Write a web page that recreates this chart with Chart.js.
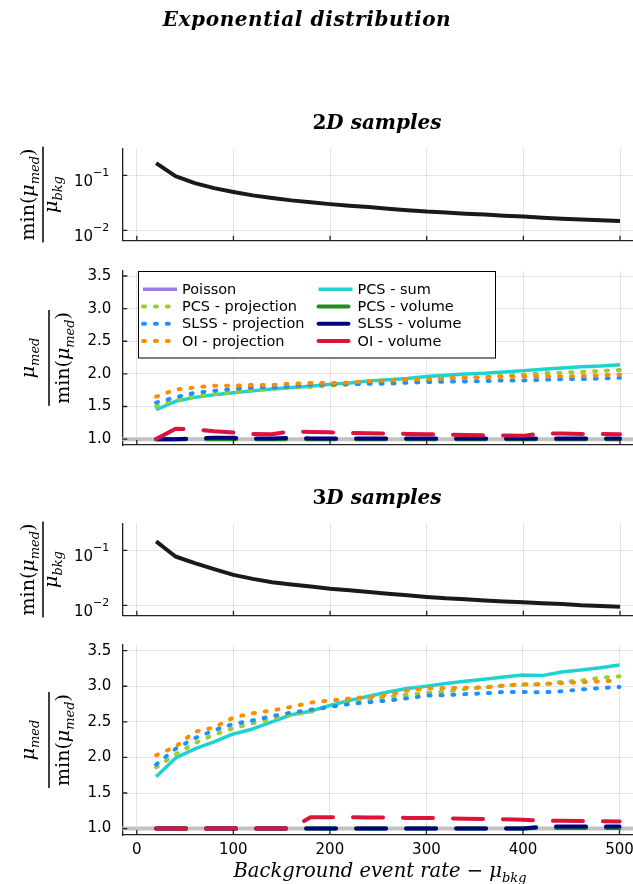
<!DOCTYPE html>
<html>
<head>
<meta charset="utf-8">
<script src="https://cdn.jsdelivr.net/npm/chart.js@4.4.1/dist/chart.umd.min.js"></script>
<style>
  body { margin: 0; width: 633px; height: 884px; overflow: hidden; background: #fff; position: relative; }
  canvas { position: absolute; left: 0; }
</style>
</head>
<body>
<canvas id="ratio2D" width="640" height="250" style="top:0px"></canvas>
<canvas id="norm2D" width="640" height="215" style="top:250px"></canvas>
<canvas id="ratio3D" width="640" height="160" style="top:465px"></canvas>
<canvas id="norm3D" width="640" height="259" style="top:625px"></canvas>
<script>
// background event rates (shared x axis)
const rates = [20, 40, 60, 80, 100, 120, 140, 160, 180, 200, 220, 240, 260, 280, 300, 320, 340, 360, 380, 400, 420, 440, 460, 480, 500];
const xTicks = [0, 100, 200, 300, 400, 500];
const normTicks = [1.0, 1.5, 2.0, 2.5, 3.0, 3.5];
const logTicks = [0.01, 0.1];
const refLevel = 1.0;

// 2D samples
const minMed2D = [0.168, 0.097, 0.0724, 0.0588, 0.050, 0.0433, 0.0389, 0.0351, 0.0323, 0.0300, 0.0281, 0.0266, 0.0248, 0.0233, 0.0219, 0.0210, 0.0201, 0.0193, 0.0185, 0.0178, 0.0170, 0.0163, 0.0158, 0.0153, 0.0148];
const poisson2D = [];
const pcsSum2D = [1.45, 1.58, 1.64, 1.68, 1.71, 1.74, 1.77, 1.79, 1.81, 1.84, 1.86, 1.89, 1.91, 1.93, 1.96, 1.98, 2.00, 2.01, 2.03, 2.05, 2.07, 2.09, 2.11, 2.12, 2.14];
const pcsProj2D = [1.50, 1.60, 1.66, 1.69, 1.72, 1.75, 1.77, 1.79, 1.80, 1.82, 1.84, 1.86, 1.88, 1.90, 1.91, 1.93, 1.94, 1.95, 1.975, 1.99, 2.01, 2.02, 2.03, 2.045, 2.06];
const pcsVol2D = [1.00, 1.00, 1.00, 1.00, 1.00, 1.00, 1.00, 1.00, 1.00, 1.00, 1.00, 1.00, 1.00, 1.00, 1.00, 1.00, 1.00, 1.00, 1.00, 1.00, 1.00, 1.00, 1.00, 1.00, 1.00];
const slssProj2D = [1.56, 1.64, 1.71, 1.74, 1.77, 1.79, 1.79, 1.81, 1.83, 1.84, 1.84, 1.85, 1.85, 1.865, 1.875, 1.88, 1.885, 1.89, 1.90, 1.90, 1.91, 1.92, 1.92, 1.93, 1.94];
const slssVol2D = [1.00, 1.00, 1.01, 1.02, 1.02, 1.01, 1.01, 1.02, 1.01, 1.01, 1.01, 1.01, 1.01, 1.01, 1.01, 1.01, 1.01, 1.01, 1.01, 1.01, 1.01, 1.01, 1.01, 1.01, 1.01];
const oiProj2D = [1.65, 1.76, 1.79, 1.82, 1.82, 1.83, 1.83, 1.85, 1.86, 1.86, 1.865, 1.89, 1.90, 1.91, 1.92, 1.93, 1.94, 1.95, 1.955, 1.96, 1.96, 1.965, 1.965, 1.98, 1.99];
const oiVol2D = [1.00, 1.16, 1.15, 1.12, 1.10, 1.08, 1.075, 1.12, 1.11, 1.105, 1.095, 1.09, 1.085, 1.08, 1.075, 1.07, 1.065, 1.06, 1.055, 1.05, 1.09, 1.085, 1.08, 1.08, 1.075];

// 3D samples
const minMed3D = [0.146, 0.0776, 0.0587, 0.0456, 0.0359, 0.0303, 0.0264, 0.0239, 0.0219, 0.0201, 0.0188, 0.0175, 0.0163, 0.0152, 0.0142, 0.0134, 0.0129, 0.0122, 0.0117, 0.01135, 0.0109, 0.0105, 0.0100, 0.0097, 0.0094];
const poisson3D = [];
const pcsSum3D = [1.73, 1.99, 2.12, 2.22, 2.33, 2.40, 2.50, 2.60, 2.65, 2.73, 2.80, 2.86, 2.92, 2.97, 3.00, 3.04, 3.07, 3.10, 3.13, 3.16, 3.15, 3.20, 3.23, 3.26, 3.30];
const pcsProj3D = [1.86, 2.04, 2.20, 2.32, 2.41, 2.48, 2.54, 2.60, 2.64, 2.72, 2.77, 2.82, 2.85, 2.88, 2.91, 2.925, 2.96, 2.985, 3.01, 3.02, 3.03, 3.06, 3.08, 3.12, 3.14];
const pcsVol3D = [1.00, 1.00, 1.00, 1.00, 1.00, 1.00, 1.00, 1.00, 1.00, 1.00, 1.00, 1.00, 1.00, 1.00, 1.00, 1.00, 1.00, 1.00, 1.00, 1.00, 1.01, 1.01, 1.01, 1.01, 1.01];
const slssProj3D = [1.90, 2.12, 2.27, 2.38, 2.47, 2.52, 2.58, 2.63, 2.67, 2.71, 2.75, 2.775, 2.80, 2.83, 2.87, 2.875, 2.89, 2.90, 2.92, 2.92, 2.915, 2.93, 2.955, 2.975, 2.99];
const slssVol3D = [1.00, 1.00, 1.00, 1.00, 1.00, 1.00, 1.00, 1.00, 1.00, 1.00, 1.00, 1.00, 1.00, 1.00, 1.00, 1.00, 1.00, 1.00, 1.00, 1.00, 1.03, 1.03, 1.03, 1.03, 1.03];
const oiProj3D = [2.03, 2.15, 2.36, 2.42, 2.56, 2.62, 2.66, 2.71, 2.77, 2.80, 2.83, 2.85, 2.88, 2.94, 2.97, 2.975, 2.98, 2.985, 3.01, 3.03, 3.03, 3.045, 3.055, 3.07, 3.08];
const oiVol3D = [1.00, 1.00, 1.00, 1.00, 1.00, 1.00, 1.00, 1.00, 1.16, 1.16, 1.16, 1.155, 1.155, 1.15, 1.15, 1.145, 1.14, 1.135, 1.13, 1.125, 1.11, 1.11, 1.105, 1.105, 1.10];

// line styles
const SOLID = [];
const DOT = [2, 9.9];
const DASH = [30, 20];

const methods = [
    { label: 'Poisson',           color: 'rgb(155, 125, 225)', width: 3.5, dash: SOLID },
    { label: 'PCS - sum',         color: '#1ed2d2',            width: 3.5, dash: SOLID },
    { label: 'PCS - projection',  color: 'yellowgreen',        width: 4,   dash: DOT },
    { label: 'PCS - volume',      color: 'forestgreen',        width: 4,   dash: DASH },
    { label: 'SLSS - projection', color: 'dodgerblue',         width: 4,   dash: DOT },
    { label: 'SLSS - volume',     color: 'navy',               width: 4,   dash: DASH },
    { label: 'OI - projection',   color: 'darkorange',         width: 4,   dash: DOT },
    { label: 'OI - volume',       color: 'crimson',            width: 4,   dash: DASH }
];

const TICK_FONT = '15px "DejaVu Sans"';
const SERIF = '"DejaVu Serif"';

// later series are painted over earlier ones
function lineSet(style, values, index = 0, count = 1) {
    return {
        label: style.label,
        data: values.map((v, i) => ({ x: rates[i], y: v })),
        order: count - index,
        borderColor: style.color,
        borderWidth: style.width,
        borderDash: style.dash,
        borderCapStyle: style.dash.length ? 'round' : 'butt',
        borderJoinStyle: 'round',
        pointRadius: 0,
        tension: 0,
        fill: false
    };
}

// text made of runs with their own font and baseline shift
function runsWidth(ctx, runs) {
    let w = 0;
    runs.forEach(r => {
        ctx.font = r.f;
        ctx.letterSpacing = r.ls || '0px';
        w += ctx.measureText(r.t).width;
    });
    ctx.letterSpacing = '0px';
    return w;
}

function drawRuns(ctx, runs, x, y) {
    ctx.textAlign = 'left';
    ctx.textBaseline = 'alphabetic';
    runs.forEach(r => {
        ctx.font = r.f;
        ctx.letterSpacing = r.ls || '0px';
        ctx.fillText(r.t, x, y + (r.dy || 0));
        x += ctx.measureText(r.t).width;
    });
    ctx.letterSpacing = '0px';
}

const minMedRuns = [
    { t: 'min', f: `19px ${SERIF}` },
    { t: '(', f: `19px ${SERIF}` },
    { t: 'μ', f: `italic 19px ${SERIF}` },
    { t: 'med', f: `italic 13px ${SERIF}`, dy: 5 },
    { t: ')', f: `19px ${SERIF}` }
];
const medRuns = [
    { t: 'μ', f: `italic 19px ${SERIF}` },
    { t: 'med', f: `italic 13px ${SERIF}`, dy: 5 }
];
const bkgRuns = [
    { t: 'μ', f: `italic 19px ${SERIF}` },
    { t: 'bkg', f: `italic 13px ${SERIF}`, dy: 5 }
];

// vertical fraction as y axis title
function fractionTitle(num, den, barX, numGap, denGap) {
    return {
        id: 'fractionTitle',
        afterDraw(chart) {
            const ctx = chart.ctx;
            const a = chart.chartArea;
            ctx.save();
            ctx.translate(barX, (a.top + a.bottom) / 2);
            ctx.rotate(-Math.PI / 2);
            ctx.fillStyle = '#000';
            const wn = runsWidth(ctx, num);
            const wd = runsWidth(ctx, den);
            const w = Math.max(wn, wd) + 4;
            ctx.fillRect(-w / 2, -0.75, w, 1.5);
            drawRuns(ctx, num, -wn / 2, -numGap);
            drawRuns(ctx, den, -wd / 2, denGap);
            ctx.restore();
        }
    };
}

// centred headings: [{runs, x, y}]
function headings(items) {
    return {
        id: 'headings',
        afterDraw(chart) {
            const ctx = chart.ctx;
            ctx.save();
            ctx.fillStyle = '#000';
            items.forEach(h => {
                const w = runsWidth(ctx, h.runs);
                drawRuns(ctx, h.runs, h.x - w / 2, h.y);
            });
            ctx.restore();
        }
    };
}

// tick marks pointing into the plot
const innerTicks = {
    id: 'innerTicks',
    afterDatasetsDraw(chart) {
        const { ctx, chartArea: a, scales: { x, y } } = chart;
        ctx.save();
        ctx.strokeStyle = '#222';
        ctx.lineWidth = 1.3;
        ctx.beginPath();
        x.ticks.forEach(t => {
            const px = x.getPixelForValue(t.value);
            ctx.moveTo(px, a.bottom);
            ctx.lineTo(px, a.bottom - 5);
        });
        y.ticks.forEach(t => {
            const py = y.getPixelForValue(t.value);
            ctx.moveTo(a.left, py);
            ctx.lineTo(a.left + 5, py);
        });
        ctx.stroke();
        ctx.restore();
    }
};

// 10^n labels for the log axis
const powerLabels = {
    id: 'powerLabels',
    afterDraw(chart) {
        const { ctx, chartArea: a, scales: { y } } = chart;
        ctx.save();
        ctx.fillStyle = '#000';
        y.ticks.forEach(t => {
            const py = y.getPixelForValue(t.value);
            const exp = '\u2212' + Math.abs(Math.round(Math.log10(t.value)));
            ctx.font = '11px "DejaVu Sans"';
            const we = ctx.measureText(exp).width;
            ctx.font = TICK_FONT;
            const wb = ctx.measureText('10').width;
            const right = a.left - 13;
            ctx.textAlign = 'left';
            ctx.textBaseline = 'alphabetic';
            ctx.fillText('10', right - we - wb, py + 10.5);
            ctx.font = '11px "DejaVu Sans"';
            ctx.fillText(exp, right - we, py + 0.5);
        });
        ctx.restore();
    }
};

// grey reference line at ratio 1, painted right after the Poisson series
function referenceLine(level) {
    return {
        id: 'referenceLine',
        afterDatasetDraw(chart, args) {
            if (args.index !== 0) return;
            const { ctx, chartArea: a, scales: { y } } = chart;
            const py = y.getPixelForValue(level);
            ctx.save();
            ctx.strokeStyle = '#c2c2c2';
            ctx.lineWidth = 4;
            ctx.beginPath();
            ctx.moveTo(a.left, py);
            ctx.lineTo(a.right, py);
            ctx.stroke();
            ctx.restore();
        }
    };
}

// two-column legend box
const methodLegend = {
    id: 'methodLegend',
    afterDatasetsDraw(chart) {
        const ctx = chart.ctx;
        const box = { x: 138, y: 21, w: 357, h: 86.5 };
        const cols = [143, 318.5];
        const sample = 34;
        ctx.save();
        ctx.fillStyle = '#fff';
        ctx.fillRect(box.x, box.y, box.w, box.h);
        ctx.strokeStyle = '#000';
        ctx.lineWidth = 1;
        ctx.strokeRect(box.x + 0.5, box.y + 0.5, box.w, box.h);
        chart.data.datasets.forEach((ds, i) => {
            const cx = cols[i % 2];
            const cy = box.y + 18.3 + Math.floor(i / 2) * 17.2;
            ctx.strokeStyle = ds.borderColor;
            ctx.lineWidth = ds.borderWidth;
            ctx.setLineDash(ds.borderDash);
            ctx.lineCap = ds.borderCapStyle;
            ctx.beginPath();
            ctx.moveTo(cx, cy);
            ctx.lineTo(cx + sample, cy);
            ctx.stroke();
            ctx.setLineDash([]);
            ctx.fillStyle = '#000';
            ctx.font = '14.5px "DejaVu Sans"';
            ctx.textAlign = 'left';
            ctx.textBaseline = 'middle';
            ctx.fillText(ds.label, cx + sample + 5, cy + 1);
        });
        ctx.restore();
    }
};

function xScale(height, showLabels) {
    return {
        type: 'linear',
        min: -15,
        max: 515,
        afterBuildTicks: s => { s.ticks = xTicks.map(v => ({ value: v })); },
        afterFit: s => { s.height = height; },
        grid: { color: 'rgba(0,0,0,0.1)', lineWidth: 1, drawTicks: false },
        border: { display: true, color: '#222', width: 1.3 },
        ticks: {
            display: showLabels,
            autoSkip: false,
            maxRotation: 0,
            padding: 6,
            color: '#000',
            font: { family: 'DejaVu Sans', size: 15 }
        }
    };
}

function makePanel(id, opts) {
    const linear = opts.kind === 'norm';
    const yScale = linear ? {
        type: 'linear',
        min: 0.91,
        max: 3.58,
        afterBuildTicks: s => { s.ticks = normTicks.map(v => ({ value: v })); },
        ticks: {
            padding: 11,
            color: '#000',
            font: { family: 'DejaVu Sans', size: 15 },
            callback: v => v.toFixed(1)
        }
    } : {
        type: 'logarithmic',
        min: Math.pow(10, -2.19),
        max: Math.pow(10, -0.505),
        afterBuildTicks: s => { s.ticks = logTicks.map(v => ({ value: v })); },
        ticks: { display: false }
    };
    yScale.afterFit = s => { s.width = 122.3; };
    yScale.grid = { color: 'rgba(0,0,0,0.1)', lineWidth: 1, drawTicks: false };
    yScale.border = { display: true, color: '#222', width: 1.3 };

    const plugins = [innerTicks, opts.title];
    if (opts.heads) plugins.push(headings(opts.heads));
    if (linear) plugins.push(referenceLine(refLevel));
    if (opts.legend) plugins.push(methodLegend);
    if (!linear) plugins.push(powerLabels);

    return new Chart(document.getElementById(id), {
        type: 'line',
        data: { datasets: opts.datasets },
        options: {
            responsive: false,
            animation: false,
            devicePixelRatio: 1,
            layout: { padding: { top: opts.top, right: 5.5, bottom: 0, left: 0 } },
            plugins: { legend: { display: false }, tooltip: { enabled: false } },
            scales: { x: xScale(opts.xHeight, !!opts.xLabels), y: yScale }
        },
        plugins: plugins
    });
}

function methodSets(series) {
    return series.map((values, i) => lineSet(methods[i], values, i, series.length));
}

const blackLine = { label: 'min', color: '#1a1a1a', width: 4, dash: SOLID };

makePanel('ratio2D', {
    kind: 'ratio',
    top: 148.3,
    xHeight: 9.3,
    datasets: [lineSet(blackLine, minMed2D)],
    title: fractionTitle(minMedRuns, bkgRuns, 43, 9, 14),
    heads: [
        { runs: [{ t: 'Exponential distribution', f: `bold italic 20px ${SERIF}`, ls: '0.6px' }], x: 307, y: 26 },
        { runs: [{ t: '2', f: `bold 20px ${SERIF}` }, { t: 'D samples', f: `bold italic 20px ${SERIF}` }], x: 377, y: 129 }
    ]
});

makePanel('norm2D', {
    kind: 'norm',
    top: 20.8,
    xHeight: 5.8,
    legend: true,
    datasets: methodSets([poisson2D, pcsSum2D, pcsProj2D, pcsVol2D, slssProj2D, slssVol2D, oiProj2D, oiVol2D]),
    title: fractionTitle(medRuns, minMedRuns, 49, 15, 20)
});

makePanel('ratio3D', {
    kind: 'ratio',
    top: 58.3,
    xHeight: 9.3,
    datasets: [lineSet(blackLine, minMed3D)],
    title: fractionTitle(minMedRuns, bkgRuns, 43, 9, 14),
    heads: [
        { runs: [{ t: '3', f: `bold 20px ${SERIF}` }, { t: 'D samples', f: `bold italic 20px ${SERIF}` }], x: 377, y: 39 }
    ]
});

makePanel('norm3D', {
    kind: 'norm',
    top: 19.5,
    xHeight: 49,
    xLabels: true,
    datasets: methodSets([poisson3D, pcsSum3D, pcsProj3D, pcsVol3D, slssProj3D, slssVol3D, oiProj3D, oiVol3D]),
    title: fractionTitle(medRuns, minMedRuns, 49, 15, 20),
    heads: [
        { runs: [
            { t: 'Background event rate', f: `italic 19.5px ${SERIF}` },
            { t: ' \u2212 ', f: `19.5px ${SERIF}` },
            { t: 'μ', f: `italic 19.5px ${SERIF}` },
            { t: 'bkg', f: `italic 13px ${SERIF}`, dy: 5 }
        ], x: 380, y: 252 }
    ]
});
</script>
</body>
</html>
